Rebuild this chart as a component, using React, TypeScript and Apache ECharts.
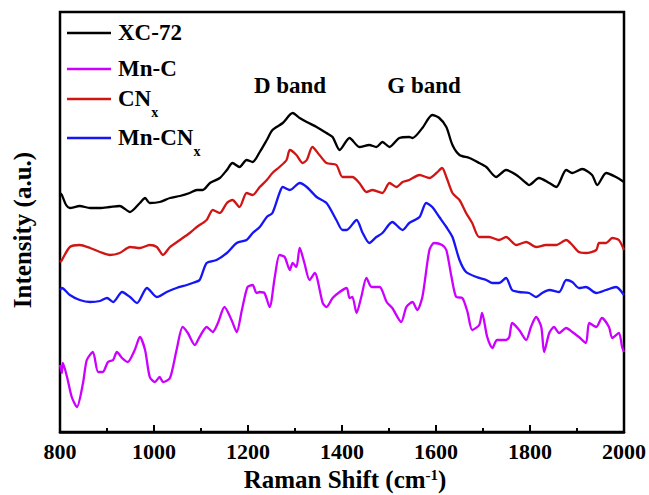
import React, { useEffect, useRef } from "react";
import * as echarts from "echarts";

const seriesNames = ["XC-72", "Mn-C", "CNx", "Mn-CNx"];
const seriesColors = ["#000000", "#cc00ff", "#d01515", "#1515f5"];
const xTicks = { min: 800, max: 2000, interval: 200 };

const xc72: number[][] = [
  [800, 239], [804, 237], [813, 227], [821, 224], [842, 226], [864, 224], [885, 224], [906, 225],
  [927, 226], [949, 220], [970, 229], [981, 234], [991, 229], [1012, 230], [1034, 234], [1055, 236],
  [1076, 239], [1091, 242], [1104, 242], [1119, 249], [1140, 254], [1155, 262], [1167, 269], [1182, 265],
  [1197, 272], [1210, 270], [1225, 280], [1240, 292], [1252, 302], [1274, 309], [1295, 319], [1310, 314],
  [1325, 310], [1346, 305], [1367, 299], [1380, 295], [1395, 282], [1416, 294], [1437, 285], [1458, 287],
  [1473, 285], [1486, 290], [1501, 285], [1522, 294], [1543, 295], [1550, 294], [1571, 304], [1592, 317],
  [1607, 314], [1622, 305], [1635, 287], [1650, 277], [1671, 274], [1692, 269], [1707, 265], [1728, 255],
  [1749, 262], [1771, 257], [1792, 249], [1798, 247], [1819, 254], [1841, 249], [1856, 245], [1877, 262],
  [1890, 259], [1911, 263], [1932, 257], [1943, 247], [1962, 259], [1983, 255], [2000, 250],
];

const mnC: number[][] = [
  [800, 67], [804, 59], [806, 69], [815, 55], [825, 35], [836, 25], [849, 49], [857, 72], [870, 80],
  [881, 60], [891, 60], [902, 70], [913, 72], [921, 80], [932, 74], [944, 70], [959, 82], [970, 95],
  [981, 82], [991, 55], [1002, 50], [1012, 55], [1019, 50], [1034, 54], [1048, 82], [1061, 105],
  [1072, 99], [1087, 87], [1097, 95], [1112, 105], [1125, 100], [1136, 109], [1150, 125], [1165, 112],
  [1176, 100], [1187, 122], [1199, 145], [1210, 147], [1218, 139], [1225, 140], [1235, 139], [1246, 125],
  [1257, 155], [1267, 177], [1278, 175], [1289, 162], [1295, 169], [1303, 165], [1310, 184], [1320, 169],
  [1331, 152], [1342, 159], [1359, 129], [1367, 125], [1380, 134], [1395, 140], [1410, 144], [1416, 134],
  [1422, 135], [1431, 119], [1441, 135], [1452, 154], [1463, 145], [1480, 145], [1495, 130], [1507, 124],
  [1526, 110], [1537, 125], [1550, 130], [1560, 122], [1571, 135], [1586, 182], [1596, 189], [1613, 187],
  [1622, 182], [1633, 155], [1643, 135], [1656, 134], [1667, 120], [1677, 102], [1692, 107], [1698, 119],
  [1709, 95], [1720, 84], [1730, 92], [1749, 92], [1756, 95], [1762, 109], [1777, 102], [1792, 92],
  [1802, 105], [1813, 115], [1824, 105], [1830, 80], [1841, 99], [1851, 105], [1862, 99], [1877, 104],
  [1890, 100], [1904, 95], [1919, 89], [1926, 109], [1941, 105], [1953, 114], [1968, 105], [1975, 94],
  [1989, 99], [1996, 85], [2000, 80],
];

const cnx: number[][] = [
  [800, 170], [804, 172], [821, 185], [842, 187], [864, 184], [885, 180], [906, 177], [927, 179],
  [949, 185], [970, 184], [991, 187], [1006, 185], [1019, 177], [1034, 185], [1055, 192], [1076, 199],
  [1091, 205], [1112, 212], [1125, 222], [1140, 219], [1155, 229], [1167, 232], [1182, 225], [1197, 239],
  [1210, 237], [1225, 245], [1240, 252], [1252, 259], [1267, 265], [1282, 272], [1289, 282], [1303, 277],
  [1316, 269], [1325, 272], [1337, 285], [1352, 277], [1367, 269], [1388, 267], [1401, 255], [1422, 255],
  [1437, 249], [1452, 240], [1465, 242], [1486, 239], [1501, 249], [1516, 245], [1529, 250], [1543, 252],
  [1565, 257], [1586, 254], [1601, 259], [1613, 264], [1622, 255], [1635, 239], [1650, 232], [1664, 219],
  [1677, 209], [1692, 195], [1713, 195], [1734, 192], [1749, 195], [1771, 187], [1792, 190], [1813, 185],
  [1834, 187], [1856, 187], [1877, 192], [1890, 187], [1904, 180], [1919, 179], [1941, 182], [1947, 189],
  [1962, 189], [1975, 194], [1989, 192], [2000, 182],
];

const mnCnx: number[][] = [
  [800, 142], [804, 144], [821, 137], [842, 132], [864, 130], [885, 131], [900, 134], [913, 130],
  [932, 140], [949, 135], [964, 129], [985, 144], [1006, 135], [1027, 140], [1048, 144], [1070, 147],
  [1082, 149], [1097, 152], [1112, 169], [1133, 172], [1155, 179], [1176, 189], [1197, 192], [1210, 199],
  [1225, 205], [1240, 215], [1252, 219], [1267, 239], [1274, 245], [1289, 242], [1310, 249], [1325, 245],
  [1346, 235], [1367, 229], [1388, 212], [1401, 202], [1410, 202], [1431, 212], [1444, 199], [1458, 189],
  [1473, 195], [1486, 199], [1507, 210], [1529, 202], [1543, 209], [1565, 215], [1579, 229], [1592, 225],
  [1607, 215], [1622, 205], [1635, 195], [1650, 172], [1664, 160], [1686, 155], [1707, 152], [1720, 149],
  [1734, 149], [1749, 154], [1762, 142], [1777, 140], [1798, 139], [1813, 135], [1826, 139], [1841, 142],
  [1862, 140], [1877, 152], [1890, 150], [1904, 144], [1919, 145], [1941, 139], [1962, 142], [1983, 145],
  [2000, 137],
];

const seriesData = [xc72, mnC, cnx, mnCnx];

const FONT = "Liberation Serif";

export default function App() {
  const ref = useRef<HTMLDivElement>(null);

  useEffect(() => {
    if (!ref.current) return;
    const chart = echarts.init(ref.current, undefined, { renderer: "svg" });

    const main = { fontSize: 23, fontWeight: "bold", fontFamily: FONT, color: "#000", lineHeight: 24, verticalAlign: "top" };
    const sub = { fontSize: 14, fontWeight: "bold", fontFamily: FONT, color: "#000", lineHeight: 50, verticalAlign: "middle" };
    const legendTexts = ["{m|XC-72}", "{m|Mn-C}", "{m|CN}{s|x}", "{m|Mn-CN}{s|x}"];
    const legendY = [33, 69, 99, 138];

    const legendGraphics: any[] = [];
    legendTexts.forEach((t, i) => {
      legendGraphics.push({
        type: "line",
        shape: { x1: 67, y1: legendY[i], x2: 111, y2: legendY[i] },
        style: { stroke: seriesColors[i], lineWidth: 2.5 },
        silent: true,
      });
      legendGraphics.push({
        type: "text",
        x: 118,
        y: legendY[i] - 12,
        style: { text: t, align: "left", verticalAlign: "top", rich: { m: main, s: sub } },
        silent: true,
      });
    });

    chart.setOption({
      animation: false,
      backgroundColor: "#ffffff",
      grid: {
        left: 60,
        right: 24,
        top: 12,
        bottom: 63,
        show: true,
        borderColor: "#000",
        borderWidth: 2.5,
        backgroundColor: "transparent",
      },
      xAxis: {
        type: "value",
        min: xTicks.min,
        max: xTicks.max,
        interval: xTicks.interval,
        axisLine: { show: true, lineStyle: { color: "#000", width: 2.5 } },
        axisTick: { show: true, inside: true, length: 7, lineStyle: { color: "#000", width: 2 } },
        minorTick: { show: true, splitNumber: 2, length: 4, lineStyle: { color: "#000", width: 2 } },
        splitLine: { show: false },
        minorSplitLine: { show: false },
        axisLabel: {
          fontSize: 22,
          fontWeight: "bold",
          fontFamily: FONT,
          color: "#000",
          margin: 8,
          formatter: (v: number) => String(v),
        },
      },
      yAxis: {
        type: "value",
        min: 0,
        max: 420,
        axisLine: { show: false },
        axisTick: { show: false },
        axisLabel: { show: false },
        splitLine: { show: false },
      },
      series: seriesNames.map((name, i) => ({
        name,
        type: "line",
        data: seriesData[i],
        showSymbol: false,
        smooth: 0.25,
        lineStyle: { color: seriesColors[i], width: 2.3 },
        itemStyle: { color: seriesColors[i] },
      })),
      graphic: [
        ...legendGraphics,
        {
          type: "text",
          x: 290,
          y: 85,
          style: { text: "D band", align: "center", verticalAlign: "middle", fontSize: 23, fontWeight: "bold", fontFamily: FONT, fill: "#000" },
          silent: true,
        },
        {
          type: "text",
          x: 424,
          y: 85,
          style: { text: "G band", align: "center", verticalAlign: "middle", fontSize: 23, fontWeight: "bold", fontFamily: FONT, fill: "#000" },
          silent: true,
        },
        {
          type: "text",
          x: 22,
          y: 230,
          rotation: Math.PI / 2,
          style: { text: "Intensity (a.u.)", align: "center", verticalAlign: "middle", fontSize: 25, fontWeight: "bold", fontFamily: FONT, fill: "#000" },
          silent: true,
        },
        {
          type: "text",
          x: 345,
          y: 467,
          style: {
            text: "{a|Raman Shift (cm}{b|-1}{a|)}",
            align: "center",
            verticalAlign: "top",
            rich: {
              a: { fontSize: 25, fontWeight: "bold", fontFamily: FONT, color: "#000", lineHeight: 25, verticalAlign: "bottom" },
              b: { fontSize: 15, fontWeight: "bold", fontFamily: FONT, color: "#000", lineHeight: 12, verticalAlign: "top" },
            },
          },
          silent: true,
        },
      ],
    });

    return () => chart.dispose();
  }, []);

  return (
    <div
      ref={ref}
      style={{ position: "fixed", left: 0, top: 0, width: 649, height: 495, background: "#fff" }}
    />
  );
}
